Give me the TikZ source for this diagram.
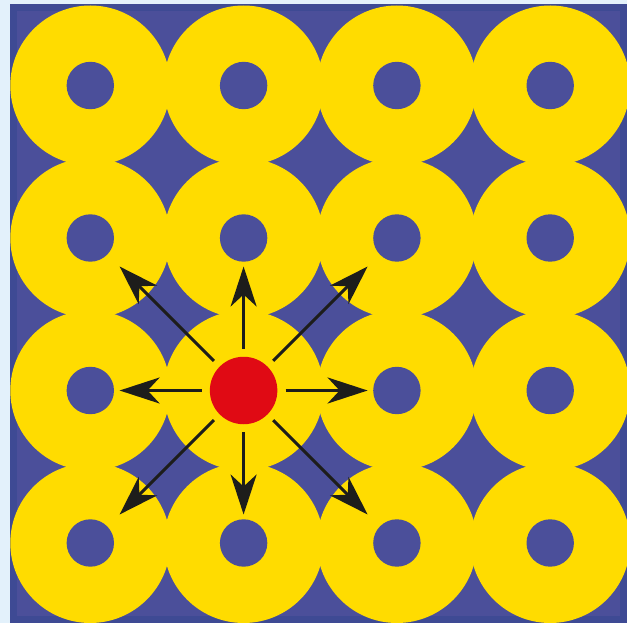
\documentclass[tikz,border=0pt]{standalone}
\usetikzlibrary{arrows.meta}
\definecolor{bgblue}{HTML}{E3F1FB}
\definecolor{latblue}{HTML}{4B4F9A}
\definecolor{edgeblue}{HTML}{3E4A94}
\definecolor{ionyellow}{HTML}{FFDC00}
\definecolor{ionred}{HTML}{E00A14}
\definecolor{arrowblack}{HTML}{1D1D1B}
\begin{document}
\begin{tikzpicture}[x=1pt, y=-1pt,
  ring/.style={fill=ionyellow},
  hole/.style={fill=latblue},
  ion/.style={circle, fill=ionred, minimum size=67.5pt, inner sep=0pt},
  arrow/.style={-{Stealth[length=40pt, width=26pt, inset=12pt]}, line width=3pt, draw=arrowblack, shorten <=8pt}
]
\useasboundingbox (0,0) rectangle (627,623);
\fill[bgblue] (0,0) rectangle (627,623);
\fill[latblue] (10,4) rectangle (627,623);
\draw[edgeblue, line width=7pt] (13.5,7.5) rectangle (623.5,619.5);
\begin{scope}
  \clip (10,4) rectangle (627,623);
  \foreach \i in {0,...,3}
    \foreach \j in {0,...,3}
      \fill[ring] (90.3+153.3*\i, 85.5+152.5*\j) circle (80pt);
  \foreach \i in {0,...,3}
    \foreach \j in {0,...,3}
      \fill[hole] (90.3+153.3*\i, 85.5+152.5*\j) circle (23.7pt);
\end{scope}
\node[ion] (ion) at (243.6,390.5) {};
\foreach \name/\dx/\dy in {e/124/0, ne/124/-124, n/0/-124, nw/-124/-124, w/-124/0, sw/-124/124, s/0/124, se/124/124}
  \coordinate (\name) at ([shift={(\dx,\dy)}]ion.center);
\foreach \name in {e,ne,n,nw,w,sw,s,se}
  \draw[arrow] (ion) -- (\name);
\end{tikzpicture}
\end{document}
